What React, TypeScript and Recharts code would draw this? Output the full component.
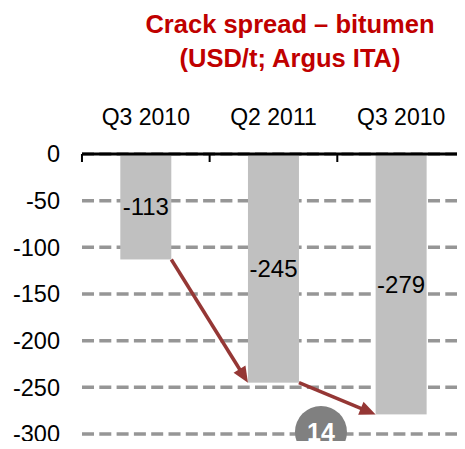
import React from 'react';
import { BarChart, Bar, XAxis, YAxis, CartesianGrid, LabelList } from 'recharts';

const categories = ['Q3 2010', 'Q2 2011', 'Q3 2010'];
const spread = [-113, -245, -279];
const yTicks = [0, -50, -100, -150, -200, -250, -300];
const badgeText = '14';
const badgeLevel = -300;

const data = categories.map((period, i) => ({ id: i, period, spread: spread[i] }));

const W = 465;
const H = 449;
const margin = { top: 114, right: 0, bottom: 15, left: 0 };
const yAxisWidth = 82;
const plotLeft = margin.left + yAxisWidth;
const step = (W - margin.right - plotLeft) / categories.length;

const FONT = '"Liberation Sans", Arial, sans-serif';
const ARROW = '#953735';
const BAR = '#c0c0c0';

const Arrow = ({ x1, y1, x2, y2 }: any) => {
  const dx = x2 - x1;
  const dy = y2 - y1;
  const len = Math.sqrt(dx * dx + dy * dy);
  const ux = dx / len;
  const uy = dy / len;
  const headLen = 16;
  const half = 7;
  const bx = x2 - ux * headLen;
  const by = y2 - uy * headLen;
  const pts = [
    [x2, y2],
    [bx - uy * half, by + ux * half],
    [bx + uy * half, by - ux * half],
  ]
    .map((p) => p.join(','))
    .join(' ');
  return (
    <g>
      <line x1={x1} y1={y1} x2={bx + ux * 2} y2={by + uy * 2} stroke={ARROW} strokeWidth={3.5} />
      <polygon points={pts} fill={ARROW} />
    </g>
  );
};

// bar + band tick + incoming arrow from the previous bar
const BarShape = (props: any) => {
  const { x, y, width, height, index } = props;
  const top = Math.min(y, y + height);
  const bottom = Math.max(y, y + height);
  const k = (bottom - top) / Math.abs(spread[index]);
  const bandLeft = x + width / 2 - step / 2;
  const badgeX = x + width + 22;
  const badgeY = top + Math.abs(badgeLevel) * k - 2;
  return (
    <g>
      <rect x={x} y={top} width={width} height={bottom - top} fill={BAR} />
      <line x1={bandLeft} x2={bandLeft} y1={top} y2={top + 8} stroke="#000" strokeWidth={2} />
      {index === categories.length - 1 && (
        <line x1={bandLeft + step} x2={bandLeft + step} y1={top} y2={top + 8} stroke="#000" strokeWidth={2} />
      )}
      {index > 0 && (
        <Arrow
          x1={x - step + width}
          y1={top + Math.abs(spread[index - 1]) * k}
          x2={x}
          y2={bottom}
        />
      )}
      {index === 1 && (
        <g>
          <circle cx={badgeX} cy={badgeY} r={26} fill="#808080" />
          <text
            x={badgeX}
            y={badgeY + 9}
            textAnchor="middle"
            fill="#fff"
            fontWeight="bold"
            fontSize={25}
            fontFamily={FONT}
          >
            {badgeText}
          </text>
        </g>
      )}
    </g>
  );
};

export default function App() {
  return (
    <div style={{ position: 'relative', width: W, height: H, margin: -8, background: '#fff' }}>
      <div
        style={{
          position: 'absolute',
          left: 140,
          top: 7,
          width: 300,
          textAlign: 'center',
          color: '#c00000',
          fontFamily: FONT,
          fontWeight: 'bold',
          fontSize: 25.5,
          lineHeight: '34px',
          zIndex: 2,
        }}
      >
        Crack spread – bitumen
        <br />
        (USD/t; Argus ITA)
      </div>
      <BarChart width={W} height={H} data={data} margin={margin} barCategoryGap="30%">
        <CartesianGrid
          horizontal
          vertical={false}
          stroke="#969696"
          strokeWidth={3.5}
          strokeDasharray="12 5.3"
        />
        <XAxis
          dataKey="period"
          orientation="top"
          height={40}
          axisLine={{ stroke: '#000', strokeWidth: 3 }}
          tickLine={false}
          tickSize={0}
          tickMargin={29}
          tick={{ fill: '#000', fontSize: 23, fontFamily: FONT }}
          interval={0}
        />
        <YAxis
          width={yAxisWidth}
          domain={[-300, 0]}
          ticks={yTicks}
          axisLine={false}
          tickLine={false}
          tickSize={0}
          tickMargin={22}
          tick={{ fill: '#000', fontSize: 23.5, fontFamily: FONT }}
        />
        <Bar dataKey="spread" fill={BAR} shape={<BarShape />} isAnimationActive={false}>
          <LabelList
            dataKey="spread"
            position="center"
            fill="#000"
            fontSize={24}
            fontFamily={FONT}
          />
        </Bar>
      </BarChart>
    </div>
  );
}
